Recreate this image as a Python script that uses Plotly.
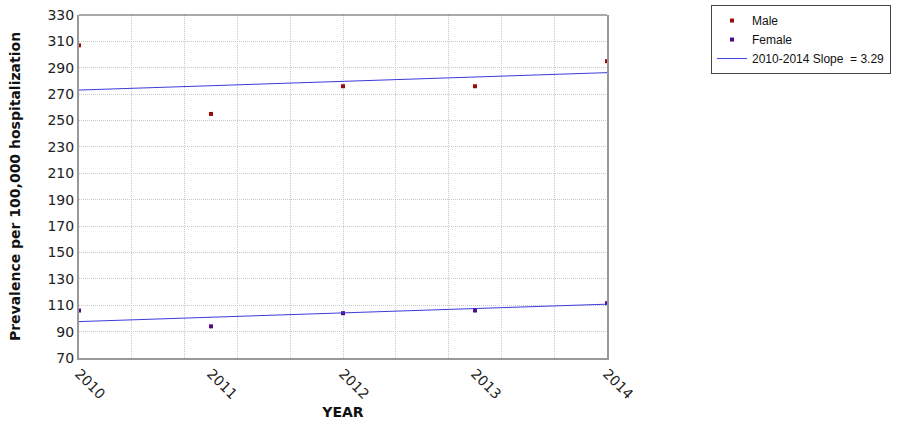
import plotly.graph_objects as go

years = [2010, 2011, 2012, 2013, 2014]
male = [307, 255, 276, 276, 295]
female = [106, 94, 104, 106, 111.5]
trend_years = [2010, 2014]
male_trend = [273.1, 286.3]
female_trend = [97.6, 110.8]
slope_label = "2010-2014 Slope  = 3.29"
y_ticks = list(range(70, 331, 20))

fig = go.Figure()
fig.add_trace(go.Scatter(x=years, y=male, mode="markers", name="Male",
                         marker=dict(symbol="square", size=4, color="#9a0a0a"),
                         cliponaxis=False))
fig.add_trace(go.Scatter(x=years, y=female, mode="markers", name="Female",
                         marker=dict(symbol="square", size=4, color="#520a8c"),
                         cliponaxis=False))
fig.add_trace(go.Scatter(x=trend_years, y=male_trend, mode="lines", name=slope_label,
                         line=dict(color="#3b3bdd", width=1)))
fig.add_trace(go.Scatter(x=trend_years, y=female_trend, mode="lines", name=slope_label,
                         line=dict(color="#3b3bdd", width=1), showlegend=False))

fig.update_layout(
    width=898, height=423,
    margin=dict(l=79, r=291, t=15, b=65, autoexpand=False),
    paper_bgcolor="white", plot_bgcolor="white",
    font=dict(family="DejaVu Sans", size=14, color="#222"),
    legend=dict(x=1.197, y=1.029, xanchor="left", yanchor="top",
                bordercolor="#444", borderwidth=1, tracegroupgap=0,
                font=dict(family="Liberation Sans", size=12, color="#111"),
                bgcolor="white"),
    shapes=[dict(type="line", xref="paper", yref="paper", x0=0, x1=1, y0=1, y1=1,
                 line=dict(color="#555", width=1), layer="above")],
)
fig.update_xaxes(
    range=[2010, 2014], tickvals=years, ticktext=[str(y) for y in years],
    tickangle=45, showgrid=False, zeroline=False, automargin=False,
    showline=True, linecolor="#999", linewidth=2,
    ticks="", tickfont=dict(family="DejaVu Sans", size=14, color="#222"),
    minor=dict(dtick=0.4, tick0=2010, showgrid=True, gridcolor="#c8c8c8",
               griddash="1px,1px", gridwidth=1, ticks=""),
    title=dict(text="<b>YEAR</b>", font=dict(family="DejaVu Sans", size=14, color="#111"),
               standoff=6),
)
fig.update_yaxes(
    range=[70, 330], tickvals=y_ticks, showgrid=True, gridcolor="#c8c8c8",
    griddash="1px,1px", gridwidth=1, zeroline=False, automargin=False,
    showline=True, linecolor="#999", linewidth=2, mirror=True, ticks="",
    tickfont=dict(family="DejaVu Sans", size=14, color="#222"),
    title=dict(text="<b>Prevalence per 100,000 hospitalization</b>",
               font=dict(family="DejaVu Sans", size=14, color="#111"), standoff=24),
)

fig.write_html("out.html", config={"displayModeBar": False},
               post_script="document.body.style.margin='0';")
